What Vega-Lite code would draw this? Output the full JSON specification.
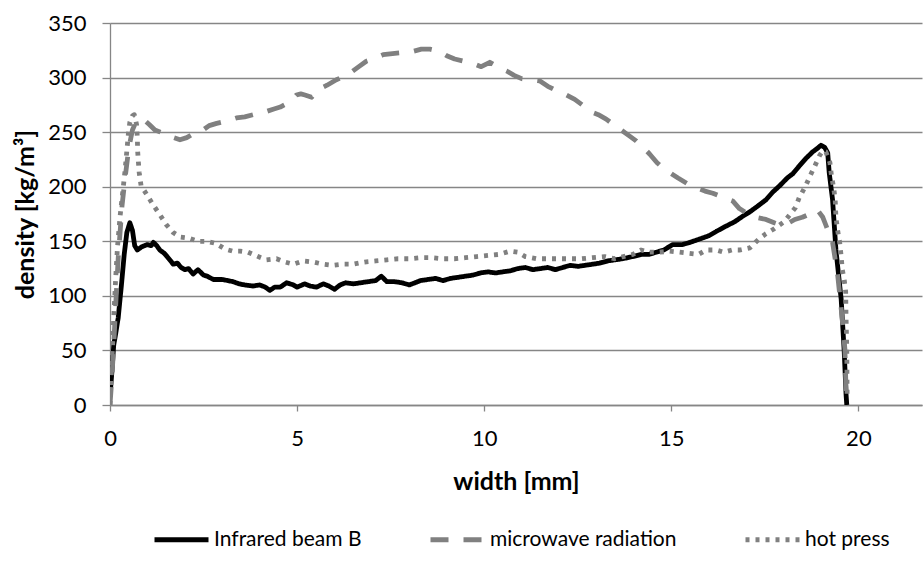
{
  "$schema": "https://vega.github.io/schema/vega-lite/v6.json",
  "autosize": {"type": "none"},
  "width": 812,
  "height": 382,
  "padding": {"left": 110, "top": 23, "right": 1, "bottom": 159},
  "background": "white",
  "config": {
    "view": {"stroke": null},
    "font": "Lato",
    "axis": {"labelFont": "Lato", "titleFont": "Lato", "labelColor": "#000000", "titleColor": "#000000", "domainColor": "#868686", "tickColor": "#868686", "gridColor": "#868686", "domainWidth": 1.3, "tickWidth": 1.3, "gridWidth": 1.3},
    "legend": {"labelFont": "Lato", "labelColor": "#000000"}
  },
  "data": {"values": [
    {"s":"Infrared beam B","w":0,"d":8},{"s":"Infrared beam B","w":0.05,"d":30},{"s":"Infrared beam B","w":0.1,"d":55},{"s":"Infrared beam B","w":0.15,"d":65},{"s":"Infrared beam B","w":0.22,"d":80},{"s":"Infrared beam B","w":0.3,"d":108},{"s":"Infrared beam B","w":0.38,"d":138},{"s":"Infrared beam B","w":0.45,"d":158},{"s":"Infrared beam B","w":0.53,"d":167},{"s":"Infrared beam B","w":0.6,"d":160},{"s":"Infrared beam B","w":0.66,"d":146},{"s":"Infrared beam B","w":0.73,"d":142},{"s":"Infrared beam B","w":0.85,"d":145},{"s":"Infrared beam B","w":1.0,"d":147},{"s":"Infrared beam B","w":1.1,"d":146},{"s":"Infrared beam B","w":1.16,"d":149},{"s":"Infrared beam B","w":1.25,"d":146},{"s":"Infrared beam B","w":1.33,"d":142},{"s":"Infrared beam B","w":1.45,"d":139},{"s":"Infrared beam B","w":1.55,"d":135},{"s":"Infrared beam B","w":1.69,"d":129},{"s":"Infrared beam B","w":1.8,"d":130},{"s":"Infrared beam B","w":1.9,"d":126},{"s":"Infrared beam B","w":2.0,"d":124},{"s":"Infrared beam B","w":2.1,"d":125},{"s":"Infrared beam B","w":2.22,"d":120},{"s":"Infrared beam B","w":2.35,"d":124},{"s":"Infrared beam B","w":2.5,"d":119},{"s":"Infrared beam B","w":2.6,"d":118},{"s":"Infrared beam B","w":2.76,"d":115},{"s":"Infrared beam B","w":3.0,"d":115},{"s":"Infrared beam B","w":3.15,"d":114},{"s":"Infrared beam B","w":3.29,"d":113},{"s":"Infrared beam B","w":3.45,"d":111},{"s":"Infrared beam B","w":3.6,"d":110},{"s":"Infrared beam B","w":3.82,"d":109},{"s":"Infrared beam B","w":4.0,"d":110},{"s":"Infrared beam B","w":4.15,"d":108},{"s":"Infrared beam B","w":4.27,"d":105},{"s":"Infrared beam B","w":4.4,"d":108},{"s":"Infrared beam B","w":4.55,"d":108},{"s":"Infrared beam B","w":4.72,"d":112},{"s":"Infrared beam B","w":4.9,"d":110},{"s":"Infrared beam B","w":5.0,"d":108},{"s":"Infrared beam B","w":5.2,"d":111},{"s":"Infrared beam B","w":5.35,"d":109},{"s":"Infrared beam B","w":5.52,"d":108},{"s":"Infrared beam B","w":5.7,"d":111},{"s":"Infrared beam B","w":5.85,"d":109},{"s":"Infrared beam B","w":6.0,"d":106},{"s":"Infrared beam B","w":6.15,"d":110},{"s":"Infrared beam B","w":6.3,"d":112},{"s":"Infrared beam B","w":6.5,"d":111},{"s":"Infrared beam B","w":6.7,"d":112},{"s":"Infrared beam B","w":6.9,"d":113},{"s":"Infrared beam B","w":7.1,"d":114},{"s":"Infrared beam B","w":7.25,"d":118},{"s":"Infrared beam B","w":7.4,"d":113},{"s":"Infrared beam B","w":7.6,"d":113},{"s":"Infrared beam B","w":7.8,"d":112},{"s":"Infrared beam B","w":8.0,"d":110},{"s":"Infrared beam B","w":8.15,"d":112},{"s":"Infrared beam B","w":8.3,"d":114},{"s":"Infrared beam B","w":8.5,"d":115},{"s":"Infrared beam B","w":8.7,"d":116},{"s":"Infrared beam B","w":8.9,"d":114},{"s":"Infrared beam B","w":9.1,"d":116},{"s":"Infrared beam B","w":9.3,"d":117},{"s":"Infrared beam B","w":9.5,"d":118},{"s":"Infrared beam B","w":9.7,"d":119},{"s":"Infrared beam B","w":9.9,"d":121},{"s":"Infrared beam B","w":10.1,"d":122},{"s":"Infrared beam B","w":10.3,"d":121},{"s":"Infrared beam B","w":10.5,"d":122},{"s":"Infrared beam B","w":10.7,"d":123},{"s":"Infrared beam B","w":10.9,"d":125},{"s":"Infrared beam B","w":11.1,"d":126},{"s":"Infrared beam B","w":11.3,"d":124},{"s":"Infrared beam B","w":11.5,"d":125},{"s":"Infrared beam B","w":11.7,"d":126},{"s":"Infrared beam B","w":11.9,"d":124},{"s":"Infrared beam B","w":12.1,"d":126},{"s":"Infrared beam B","w":12.3,"d":128},{"s":"Infrared beam B","w":12.5,"d":127},{"s":"Infrared beam B","w":12.7,"d":128},{"s":"Infrared beam B","w":12.9,"d":129},{"s":"Infrared beam B","w":13.08,"d":130},{"s":"Infrared beam B","w":13.3,"d":132},{"s":"Infrared beam B","w":13.5,"d":133},{"s":"Infrared beam B","w":13.7,"d":134},{"s":"Infrared beam B","w":13.97,"d":136},{"s":"Infrared beam B","w":14.2,"d":138},{"s":"Infrared beam B","w":14.4,"d":138},{"s":"Infrared beam B","w":14.6,"d":140},{"s":"Infrared beam B","w":14.8,"d":142},{"s":"Infrared beam B","w":15.04,"d":147},{"s":"Infrared beam B","w":15.3,"d":147},{"s":"Infrared beam B","w":15.5,"d":149},{"s":"Infrared beam B","w":15.75,"d":152},{"s":"Infrared beam B","w":16.0,"d":155},{"s":"Infrared beam B","w":16.2,"d":159},{"s":"Infrared beam B","w":16.47,"d":164},{"s":"Infrared beam B","w":16.7,"d":168},{"s":"Infrared beam B","w":16.91,"d":173},{"s":"Infrared beam B","w":17.1,"d":177},{"s":"Infrared beam B","w":17.3,"d":182},{"s":"Infrared beam B","w":17.53,"d":188},{"s":"Infrared beam B","w":17.71,"d":195},{"s":"Infrared beam B","w":17.9,"d":201},{"s":"Infrared beam B","w":18.1,"d":208},{"s":"Infrared beam B","w":18.25,"d":212},{"s":"Infrared beam B","w":18.42,"d":219},{"s":"Infrared beam B","w":18.6,"d":226},{"s":"Infrared beam B","w":18.78,"d":232},{"s":"Infrared beam B","w":18.9,"d":235},{"s":"Infrared beam B","w":19.0,"d":238},{"s":"Infrared beam B","w":19.1,"d":236},{"s":"Infrared beam B","w":19.18,"d":231},{"s":"Infrared beam B","w":19.22,"d":213},{"s":"Infrared beam B","w":19.31,"d":188},{"s":"Infrared beam B","w":19.4,"d":142},{"s":"Infrared beam B","w":19.54,"d":97},{"s":"Infrared beam B","w":19.62,"d":50},{"s":"Infrared beam B","w":19.67,"d":10},{"s":"Infrared beam B","w":19.69,"d":0},
    {"s":"microwave radiation","w":0,"d":0},{"s":"microwave radiation","w":0.05,"d":25},{"s":"microwave radiation","w":0.1,"d":55},{"s":"microwave radiation","w":0.15,"d":90},{"s":"microwave radiation","w":0.22,"d":135},{"s":"microwave radiation","w":0.32,"d":182},{"s":"microwave radiation","w":0.4,"d":207},{"s":"microwave radiation","w":0.5,"d":235},{"s":"microwave radiation","w":0.6,"d":252},{"s":"microwave radiation","w":0.7,"d":260},{"s":"microwave radiation","w":0.8,"d":262},{"s":"microwave radiation","w":0.92,"d":261},{"s":"microwave radiation","w":1.05,"d":257},{"s":"microwave radiation","w":1.2,"d":252},{"s":"microwave radiation","w":1.35,"d":250},{"s":"microwave radiation","w":1.51,"d":249},{"s":"microwave radiation","w":1.7,"d":245},{"s":"microwave radiation","w":1.87,"d":243},{"s":"microwave radiation","w":2.05,"d":245},{"s":"microwave radiation","w":2.2,"d":248},{"s":"microwave radiation","w":2.35,"d":250},{"s":"microwave radiation","w":2.49,"d":252},{"s":"microwave radiation","w":2.65,"d":256},{"s":"microwave radiation","w":2.85,"d":258},{"s":"microwave radiation","w":3.1,"d":260},{"s":"microwave radiation","w":3.38,"d":263},{"s":"microwave radiation","w":3.6,"d":264},{"s":"microwave radiation","w":3.83,"d":266},{"s":"microwave radiation","w":4.1,"d":268},{"s":"microwave radiation","w":4.36,"d":271},{"s":"microwave radiation","w":4.55,"d":273},{"s":"microwave radiation","w":4.72,"d":276},{"s":"microwave radiation","w":4.88,"d":280},{"s":"microwave radiation","w":4.98,"d":284},{"s":"microwave radiation","w":5.1,"d":285},{"s":"microwave radiation","w":5.21,"d":284},{"s":"microwave radiation","w":5.39,"d":282},{"s":"microwave radiation","w":5.56,"d":289},{"s":"microwave radiation","w":5.8,"d":293},{"s":"microwave radiation","w":6.05,"d":298},{"s":"microwave radiation","w":6.25,"d":301},{"s":"microwave radiation","w":6.41,"d":304},{"s":"microwave radiation","w":6.65,"d":310},{"s":"microwave radiation","w":6.85,"d":315},{"s":"microwave radiation","w":7.1,"d":318},{"s":"microwave radiation","w":7.3,"d":321},{"s":"microwave radiation","w":7.55,"d":322},{"s":"microwave radiation","w":7.83,"d":323},{"s":"microwave radiation","w":8.1,"d":324},{"s":"microwave radiation","w":8.32,"d":326},{"s":"microwave radiation","w":8.55,"d":326},{"s":"microwave radiation","w":8.81,"d":324},{"s":"microwave radiation","w":9.0,"d":320},{"s":"microwave radiation","w":9.21,"d":317},{"s":"microwave radiation","w":9.45,"d":315},{"s":"microwave radiation","w":9.7,"d":313},{"s":"microwave radiation","w":9.92,"d":310},{"s":"microwave radiation","w":10.15,"d":314},{"s":"microwave radiation","w":10.4,"d":309},{"s":"microwave radiation","w":10.6,"d":306},{"s":"microwave radiation","w":10.8,"d":302},{"s":"microwave radiation","w":11.0,"d":299},{"s":"microwave radiation","w":11.25,"d":298},{"s":"microwave radiation","w":11.48,"d":297},{"s":"microwave radiation","w":11.7,"d":292},{"s":"microwave radiation","w":11.93,"d":288},{"s":"microwave radiation","w":12.2,"d":284},{"s":"microwave radiation","w":12.42,"d":280},{"s":"microwave radiation","w":12.62,"d":275},{"s":"microwave radiation","w":12.82,"d":269},{"s":"microwave radiation","w":13.05,"d":266},{"s":"microwave radiation","w":13.26,"d":262},{"s":"microwave radiation","w":13.45,"d":257},{"s":"microwave radiation","w":13.66,"d":252},{"s":"microwave radiation","w":13.86,"d":247},{"s":"microwave radiation","w":14.06,"d":242},{"s":"microwave radiation","w":14.25,"d":236},{"s":"microwave radiation","w":14.42,"d":230},{"s":"microwave radiation","w":14.62,"d":222},{"s":"microwave radiation","w":14.82,"d":216},{"s":"microwave radiation","w":15.0,"d":212},{"s":"microwave radiation","w":15.18,"d":208},{"s":"microwave radiation","w":15.42,"d":203},{"s":"microwave radiation","w":15.67,"d":199},{"s":"microwave radiation","w":15.9,"d":196},{"s":"microwave radiation","w":16.11,"d":194},{"s":"microwave radiation","w":16.4,"d":190},{"s":"microwave radiation","w":16.64,"d":187},{"s":"microwave radiation","w":16.82,"d":180},{"s":"microwave radiation","w":17.0,"d":176},{"s":"microwave radiation","w":17.25,"d":172},{"s":"microwave radiation","w":17.53,"d":170},{"s":"microwave radiation","w":17.75,"d":167},{"s":"microwave radiation","w":17.93,"d":165},{"s":"microwave radiation","w":18.1,"d":166},{"s":"microwave radiation","w":18.3,"d":170},{"s":"microwave radiation","w":18.5,"d":172},{"s":"microwave radiation","w":18.7,"d":175},{"s":"microwave radiation","w":18.9,"d":179},{"s":"microwave radiation","w":19.05,"d":172},{"s":"microwave radiation","w":19.14,"d":164},{"s":"microwave radiation","w":19.31,"d":149},{"s":"microwave radiation","w":19.45,"d":118},{"s":"microwave radiation","w":19.55,"d":85},{"s":"microwave radiation","w":19.64,"d":51},{"s":"microwave radiation","w":19.68,"d":2},
    {"s":"hot press","w":0,"d":0},{"s":"hot press","w":0.05,"d":40},{"s":"hot press","w":0.1,"d":80},{"s":"hot press","w":0.15,"d":115},{"s":"hot press","w":0.2,"d":145},{"s":"hot press","w":0.27,"d":173},{"s":"hot press","w":0.4,"d":214},{"s":"hot press","w":0.49,"d":248},{"s":"hot press","w":0.53,"d":259},{"s":"hot press","w":0.6,"d":265},{"s":"hot press","w":0.65,"d":266},{"s":"hot press","w":0.71,"d":257},{"s":"hot press","w":0.73,"d":245},{"s":"hot press","w":0.74,"d":232},{"s":"hot press","w":0.76,"d":222},{"s":"hot press","w":0.78,"d":213},{"s":"hot press","w":0.83,"d":201},{"s":"hot press","w":0.98,"d":193},{"s":"hot press","w":1.14,"d":184},{"s":"hot press","w":1.32,"d":175},{"s":"hot press","w":1.51,"d":165},{"s":"hot press","w":1.69,"d":158},{"s":"hot press","w":1.87,"d":154},{"s":"hot press","w":2.09,"d":153},{"s":"hot press","w":2.36,"d":150},{"s":"hot press","w":2.58,"d":150},{"s":"hot press","w":2.83,"d":148},{"s":"hot press","w":3.07,"d":143},{"s":"hot press","w":3.27,"d":141},{"s":"hot press","w":3.47,"d":141},{"s":"hot press","w":3.69,"d":140},{"s":"hot press","w":3.96,"d":136},{"s":"hot press","w":4.18,"d":133},{"s":"hot press","w":4.45,"d":134},{"s":"hot press","w":4.67,"d":131},{"s":"hot press","w":4.9,"d":129},{"s":"hot press","w":5.16,"d":132},{"s":"hot press","w":5.43,"d":131},{"s":"hot press","w":5.7,"d":129},{"s":"hot press","w":5.95,"d":128},{"s":"hot press","w":6.2,"d":129},{"s":"hot press","w":6.5,"d":129},{"s":"hot press","w":6.8,"d":131},{"s":"hot press","w":7.1,"d":132},{"s":"hot press","w":7.4,"d":133},{"s":"hot press","w":7.7,"d":134},{"s":"hot press","w":8.0,"d":134},{"s":"hot press","w":8.3,"d":135},{"s":"hot press","w":8.6,"d":135},{"s":"hot press","w":8.9,"d":134},{"s":"hot press","w":9.2,"d":134},{"s":"hot press","w":9.5,"d":135},{"s":"hot press","w":9.8,"d":136},{"s":"hot press","w":10.1,"d":137},{"s":"hot press","w":10.4,"d":138},{"s":"hot press","w":10.7,"d":141},{"s":"hot press","w":10.9,"d":140},{"s":"hot press","w":11.1,"d":136},{"s":"hot press","w":11.4,"d":134},{"s":"hot press","w":11.7,"d":134},{"s":"hot press","w":12.0,"d":134},{"s":"hot press","w":12.3,"d":134},{"s":"hot press","w":12.6,"d":134},{"s":"hot press","w":12.9,"d":135},{"s":"hot press","w":13.22,"d":136},{"s":"hot press","w":13.48,"d":134},{"s":"hot press","w":13.72,"d":136},{"s":"hot press","w":13.97,"d":138},{"s":"hot press","w":14.19,"d":142},{"s":"hot press","w":14.42,"d":140},{"s":"hot press","w":14.69,"d":140},{"s":"hot press","w":14.95,"d":141},{"s":"hot press","w":15.22,"d":140},{"s":"hot press","w":15.47,"d":139},{"s":"hot press","w":15.73,"d":138},{"s":"hot press","w":15.93,"d":142},{"s":"hot press","w":16.2,"d":142},{"s":"hot press","w":16.4,"d":140},{"s":"hot press","w":16.62,"d":142},{"s":"hot press","w":16.84,"d":142},{"s":"hot press","w":17.1,"d":144},{"s":"hot press","w":17.34,"d":152},{"s":"hot press","w":17.53,"d":157},{"s":"hot press","w":17.73,"d":161},{"s":"hot press","w":18.02,"d":168},{"s":"hot press","w":18.32,"d":181},{"s":"hot press","w":18.42,"d":190},{"s":"hot press","w":18.58,"d":200},{"s":"hot press","w":18.71,"d":210},{"s":"hot press","w":18.85,"d":220},{"s":"hot press","w":18.97,"d":229},{"s":"hot press","w":19.05,"d":233},{"s":"hot press","w":19.13,"d":232},{"s":"hot press","w":19.24,"d":222},{"s":"hot press","w":19.28,"d":210},{"s":"hot press","w":19.34,"d":199},{"s":"hot press","w":19.38,"d":188},{"s":"hot press","w":19.4,"d":172},{"s":"hot press","w":19.45,"d":159},{"s":"hot press","w":19.5,"d":149},{"s":"hot press","w":19.54,"d":136},{"s":"hot press","w":19.57,"d":124},{"s":"hot press","w":19.62,"d":115},{"s":"hot press","w":19.66,"d":104},{"s":"hot press","w":19.67,"d":81},{"s":"hot press","w":19.69,"d":51},{"s":"hot press","w":19.7,"d":5}
  ]},
  "mark": {"type": "line", "strokeWidth": 4.8, "strokeJoin": "round", "clip": true},
  "encoding": {
    "x": {"field": "w", "type": "quantitative", "scale": {"domain": [0, 21.7], "nice": false, "zero": false},
      "axis": {"values": [0, 5, 10, 15, 20], "grid": false, "tickSize": 6, "labelFontSize": 22, "labelPadding": 17, "title": "width [mm]", "titleFontSize": 25, "titleFontWeight": "bold", "titlePadding": 20, "labelFlush": false}},
    "y": {"field": "d", "type": "quantitative", "scale": {"domain": [0, 350], "nice": false},
      "axis": {"values": [0, 50, 100, 150, 200, 250, 300, 350], "grid": true, "tickSize": 8, "labelFontSize": 22, "labelPadding": 16, "title": "density [kg/m³]", "titleFontSize": 25, "titleFontWeight": "bold", "titlePadding": 9}},
    "color": {"field": "s", "type": "nominal", "scale": {"domain": ["Infrared beam B", "microwave radiation", "hot press"], "range": ["#000000", "#808080", "#808080"]},
      "legend": {"title": null, "orient": "none", "legendX": 42, "legendY": 487, "direction": "horizontal", "columns": 3, "columnPadding": 58, "labelFontSize": 21, "labelLimit": 400, "symbolType": "stroke", "symbolSize": 2916, "symbolStrokeWidth": 4.8, "labelOffset": 3}},
    "strokeDash": {"field": "s", "type": "nominal", "scale": {"domain": ["Infrared beam B", "microwave radiation", "hot press"], "range": [[1, 0], [18, 15], [4, 6]]}}
  }
}
